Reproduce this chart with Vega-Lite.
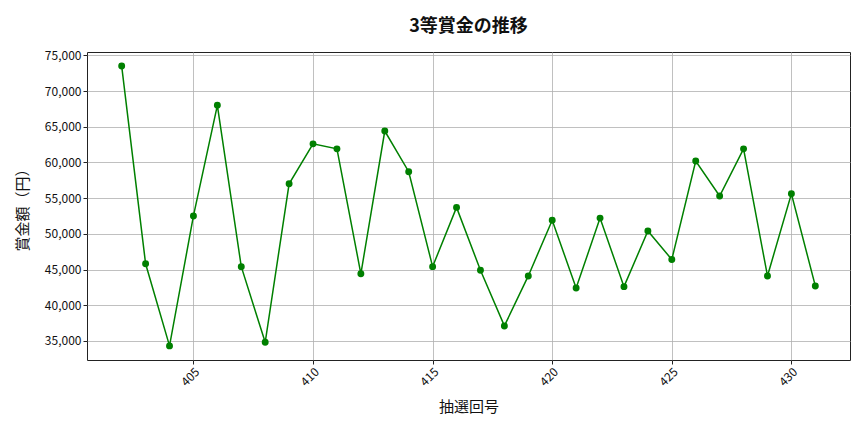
{
  "$schema": "https://vega.github.io/schema/vega-lite/v6.json",
  "autosize": "none",
  "width": 763,
  "height": 308,
  "padding": {"left": 87, "top": 52, "right": 14, "bottom": 72},
  "background": "white",
  "title": {
    "text": "3等賞金の推移",
    "fontSize": 18,
    "fontWeight": "bold",
    "font": "Noto Sans CJK JP",
    "color": "#111111",
    "offset": 13
  },
  "config": {
    "font": "Noto Sans CJK JP",
    "view": {"stroke": "#222222", "strokeWidth": 1},
    "axis": {
      "gridColor": "#b0b0b0",
      "gridWidth": 0.8,
      "domain": false,
      "tickColor": "#222222",
      "tickSize": 4,
      "labelFontSize": 12,
      "labelColor": "#111111",
      "titleFontSize": 15,
      "titleFontWeight": "normal",
      "titleColor": "#111111"
    }
  },
  "data": {
    "values": [
      {"draw": 402, "prize": 73500},
      {"draw": 403, "prize": 45800},
      {"draw": 404, "prize": 34300},
      {"draw": 405, "prize": 52500},
      {"draw": 406, "prize": 68000},
      {"draw": 407, "prize": 45400},
      {"draw": 408, "prize": 34800},
      {"draw": 409, "prize": 57000},
      {"draw": 410, "prize": 62600},
      {"draw": 411, "prize": 61900},
      {"draw": 412, "prize": 44400},
      {"draw": 413, "prize": 64400},
      {"draw": 414, "prize": 58700},
      {"draw": 415, "prize": 45400},
      {"draw": 416, "prize": 53700},
      {"draw": 417, "prize": 44900},
      {"draw": 418, "prize": 37100},
      {"draw": 419, "prize": 44100},
      {"draw": 420, "prize": 51900},
      {"draw": 421, "prize": 42400},
      {"draw": 422, "prize": 52200},
      {"draw": 423, "prize": 42600},
      {"draw": 424, "prize": 50400},
      {"draw": 425, "prize": 46400},
      {"draw": 426, "prize": 60200},
      {"draw": 427, "prize": 55300},
      {"draw": 428, "prize": 61900},
      {"draw": 429, "prize": 44100},
      {"draw": 430, "prize": 55600},
      {"draw": 431, "prize": 42700}
    ]
  },
  "mark": {
    "type": "line",
    "color": "#008000",
    "strokeWidth": 1.5,
    "point": {"filled": true, "size": 48, "color": "#008000", "opacity": 1}
  },
  "encoding": {
    "x": {
      "field": "draw",
      "type": "quantitative",
      "title": "抽選回号",
      "scale": {"domain": [400.55, 432.45], "nice": false, "zero": false},
      "axis": {
        "values": [405, 410, 415, 420, 425, 430],
        "labelAngle": -45,
        "labelAlign": "right",
        "labelBaseline": "top",
        "titlePadding": 12
      }
    },
    "y": {
      "field": "prize",
      "type": "quantitative",
      "title": "賞金額（円）",
      "scale": {"domain": [32325, 75467], "nice": false, "zero": false},
      "axis": {
        "values": [35000, 40000, 45000, 50000, 55000, 60000, 65000, 70000, 75000],
        "format": ",d",
        "titlePadding": 14
      }
    }
  }
}
